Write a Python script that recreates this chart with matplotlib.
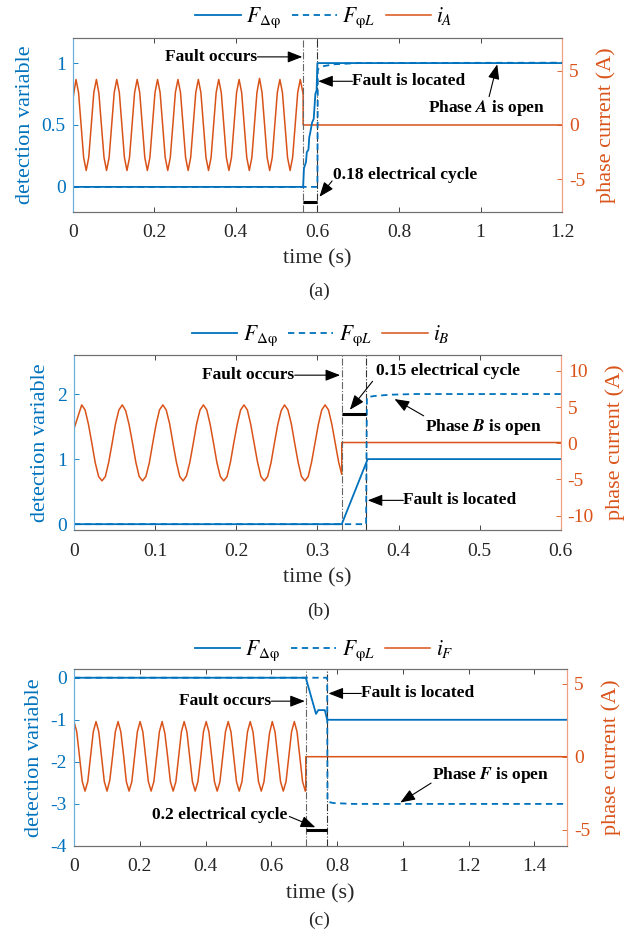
import numpy as np
import matplotlib.pyplot as plt

plt.rcParams['font.family'] = ['Liberation Serif', 'DejaVu Serif']
plt.rcParams['mathtext.fontset'] = 'stix'

blue = '#0072BD'
orange = '#D95319'
gray = '#262626'

# ---------------- (a) ----------------
fa_t = [0, 0.565, 0.567, 0.572, 0.574, 0.578, 0.580, 0.582, 0.587, 0.591, 0.595, 0.598, 0.600, 1.2]
fa_v = [0, 0, 0.15, 0.20, 0.28, 0.30, 0.40, 0.43, 0.52, 0.55, 0.75, 0.78, 1.0, 1.0]
la_t = [0, 0.600, 0.601, 0.615, 0.640, 0.700, 1.2]
la_v = [0, 0, 0.95, 0.975, 0.99, 1.0, 1.003]
# phase current i_A, sampled 8 points per cycle starting at the first peak
ia_t0, ia_dt = 0.008, 0.00625
ia_first = 2.3
ia_vals = [
    4.2, 3.0, 0.0, -3.0, -4.2, -3.0, 0.0, 3.0,
    4.2, 2.9, -0.1, -3.0, -4.2, -3.0, 0.0, 3.0,
    4.2, 3.0, 0.0, -3.0, -4.2, -3.0, 0.0, 3.0,
    4.2, 3.0, 0.0, -3.0, -4.2, -3.0, 0.0, 3.0,
    4.2, 3.0, 0.0, -3.0, -4.2, -3.0, 0.0, 3.0,
    4.2, 3.0, 0.0, -3.0, -4.2, -3.0, 0.0, 3.0,
    4.2, 3.0, 0.0, -3.0, -4.2, -3.0, 0.0, 3.0,
    4.2, 3.0, 0.0, -3.0, -4.2, -3.0, 0.0, 3.0,
    4.2, 3.0, 0.0, -3.0, -4.2, -3.0, 0.0, 3.0,
    4.3, 3.0, 0.0, -3.0, -4.2, -3.0, 0.0, 3.0,
    4.2, 3.0, 0.0, -3.0, -4.2, -3.0, 0.0, 3.0,
    4.2, 3.0,
]
ia_fault = (0.565, 2.8)
ia_after = 0.0

# ---------------- (b) ----------------
fb_t = [0, 0.330, 0.362, 0.6]
fb_v = [0, 0, 1.0, 1.0]
lb_t = [0, 0.360, 0.361, 0.370, 0.390, 0.420, 0.6]
lb_v = [0, 0, 1.95, 1.97, 1.99, 2.0, 2.0]
# phase current i_B, 12 points per cycle starting at the first peak
ib_t0, ib_dt = 0.0095, 0.05 / 12
ib_first = 2.0
ib_vals = [
    5.3, 4.6, 2.6, 0.0, -2.7, -4.6, -5.2, -4.6, -2.6, 0.0, 2.7, 4.6,
    5.3, 4.5, 2.6, 0.1, -2.6, -4.6, -5.2, -4.6, -2.7, 0.0, 2.6, 4.6,
    5.3, 4.6, 2.7, 0.0, -2.6, -4.6, -5.2, -4.5, -2.6, 0.0, 2.7, 4.6,
    5.3, 4.6, 2.6, 0.0, -2.7, -4.6, -5.2, -4.6, -2.6, 0.1, 2.6, 4.6,
    5.3, 4.6, 2.6, 0.0, -2.6, -4.6, -5.2, -4.6, -2.7, 0.0, 2.6, 4.5,
    5.3, 4.6, 2.7, 0.0, -2.6, -4.6, -5.2, -4.6, -2.6, 0.0, 2.6, 4.6,
    5.3, 4.6, 2.6, 0.0, -2.6,
]
ib_fault = (0.330, -4.3)
ib_after = 0.1

# ---------------- (c) ----------------
fc_t = [0, 0.705, 0.736, 0.743, 0.763, 0.770, 1.5]
fc_v = [0, 0, -0.86, -0.77, -0.77, -1.0, -1.0]
lc_t = [0, 0.770, 0.771, 0.790, 0.850, 1.5]
lc_v = [0, 0, -2.95, -2.98, -3.0, -3.0]
# phase current i_F, 8 points per cycle starting at t = 0 (a peak)
ic_t0, ic_dt = 0.0, 0.067 / 8
ic_vals = [
    2.4, 1.7, 0.0, -1.7, -2.35, -1.7, 0.0, 1.7,
    2.4, 1.7, 0.0, -1.7, -2.35, -1.6, 0.0, 1.7,
    2.4, 1.7, 0.1, -1.7, -2.35, -1.7, 0.0, 1.7,
    2.4, 1.7, 0.0, -1.7, -2.35, -1.7, 0.0, 1.7,
    2.4, 1.6, 0.0, -1.7, -2.35, -1.7, 0.0, 1.7,
    2.4, 1.7, 0.0, -1.7, -2.35, -1.7, -0.1, 1.7,
    2.4, 1.7, 0.0, -1.7, -2.35, -1.7, 0.0, 1.7,
    2.4, 1.7, 0.0, -1.7, -2.35, -1.7, 0.0, 1.7,
    2.4, 1.7, 0.0, -1.7, -2.35, -1.7, 0.0, 1.6,
    2.4, 1.7, 0.0, -1.7, -2.35, -1.7, 0.0, 1.7,
    2.4, 1.7, 0.0, -1.7, -2.35,
]
ic_fault = (0.705, -2.3)
ic_after = 0.0


def current_series(t0, dt, vals, fault, after, t_end, first=None):
    t = list(t0 + dt * np.arange(len(vals)))
    v = list(vals)
    if first is not None:
        t = [0.0] + t
        v = [first] + v
    t += [fault[0], fault[0], t_end]
    v += [fault[1], after, after]
    return t, v


def styled(rect, xlim, xticks, ylim, yticks, ylim2, yticks2):
    ax = fig.add_axes(rect)
    ax2 = ax.twinx()
    ax.set_zorder(ax2.get_zorder() + 1)
    ax.patch.set_visible(False)
    ax.set_xlim(xlim)
    ax.set_xticks(xticks)
    ax.set_xticklabels([f'{x:g}' for x in xticks])
    ax.set_ylim(ylim)
    ax.set_yticks(yticks)
    ax.set_yticklabels([f'{y:g}' for y in yticks])
    ax2.set_ylim(ylim2)
    ax2.set_yticks(yticks2)
    ax2.set_yticklabels([f'{y:g}' for y in yticks2])
    ax.tick_params(axis='x', direction='in', top=True, length=3.5, width=0.6,
                   labelsize=14, colors=gray, pad=9)
    ax.tick_params(axis='y', direction='in', length=3.5, width=0.6, labelsize=14,
                   colors=blue, pad=5)
    ax2.tick_params(axis='y', direction='in', length=3.5, width=0.6, labelsize=14,
                    colors=orange, pad=5)
    for a in (ax, ax2):
        a.spines['top'].set_color('#707070')
        a.spines['bottom'].set_color('#707070')
        a.spines['left'].set_color('#6aaedc')
        a.spines['right'].set_color('#f0a080')
        for s in a.spines.values():
            s.set_linewidth(0.8)
    ax.set_ylabel('detection variable', color=blue, fontsize=16, labelpad=5)
    ax2.set_ylabel('phase current (A)', color=orange, fontsize=16, labelpad=8)
    ax.set_xlabel('time (s)', color=gray, fontsize=16, labelpad=6)
    return ax, ax2


def note(ax, x, y, s, ha='center'):
    ax.text(x, y, s, ha=ha, va='center', fontsize=12.5, fontweight='bold', color='k')


def arrow(ax, tail, head):
    ax.annotate('', xy=head, xytext=tail,
                arrowprops=dict(arrowstyle='-|>,head_length=0.9,head_width=0.35',
                                color='k', lw=0.8, shrinkA=0, shrinkB=0,
                                mutation_scale=10))


def draw(ax, ax2, f_t, f_v, l_t, l_v, i_t, i_v, t_fault, t_loc, bar_y, cur_name, leg_xy):
    ax.axvline(t_fault, color='#666666', lw=0.8, ls='-.')
    ax.axvline(t_loc, color='#333333', lw=0.8, ls='-.')
    h1, = ax.plot(f_t, f_v, color=blue, lw=1.3)
    h2, = ax.plot(l_t, l_v, color=blue, lw=1.3, ls=(0, (3.5, 2.5)))
    h3, = ax2.plot(i_t, i_v, color=orange, lw=1.1)
    ax.plot([t_fault, t_loc], [bar_y, bar_y], color='k', lw=2.2, solid_capstyle='butt')
    ax.legend([h1, h2, h3],
              [r'$F_{\mathrm{\Delta\varphi}}$', r'$F_{\mathrm{\varphi}L}$', cur_name],
              loc='center', bbox_to_anchor=leg_xy, bbox_transform=fig.transFigure,
              ncol=3, frameon=False, fontsize=15.5, handlelength=2.1,
              handletextpad=0.25, columnspacing=0.5)


fig = plt.figure(figsize=(6.38, 9.32), dpi=100)

# (a)
ax, ax2 = styled([0.114, 0.7729, 0.767, 0.186], (0, 1.2), [0, 0.2, 0.4, 0.6, 0.8, 1.0, 1.2],
                 (-0.2, 1.2), [0, 0.5, 1], (-8, 8), [-5, 0, 5])
ia_t, ia_v = current_series(ia_t0, ia_dt, ia_vals, ia_fault, ia_after, 1.2, ia_first)
draw(ax, ax2, fa_t, fa_v, la_t, la_v, ia_t, ia_v, 0.565, 0.600, -0.12, r'$i_A$', (0.508, 0.981))
note(ax, 0.451, 1.05, 'Fault occurs', ha='right')
arrow(ax, (0.453, 1.05), (0.563, 1.05))
note(ax, 0.686, 0.853, 'Fault is located', ha='left')
arrow(ax, (0.686, 0.853), (0.602, 0.853))
note(ax, 1.016, 0.638, r'Phase $\mathbfit{A}$ is open')
arrow(ax, (1.021, 0.729), (1.041, 0.99))
note(ax, 0.816, 0.097, '0.18 electrical cycle')
arrow(ax, (0.636, 0.048), (0.605, -0.08))
fig.text(0.5, 1 - 291 / 932, '(a)', ha='center', va='center', fontsize=14, color=gray)

# (b)
ax, ax2 = styled([0.116, 0.4313, 0.763, 0.1878], (0, 0.6), [0, 0.1, 0.2, 0.3, 0.4, 0.5, 0.6],
                 (-0.09, 2.6), [0, 1, 2], (-12, 12.2), [-10, -5, 0, 5, 10])
ib_t, ib_v = current_series(ib_t0, ib_dt, ib_vals, ib_fault, ib_after, 0.6, ib_first)
draw(ax, ax2, fb_t, fb_v, lb_t, lb_v, ib_t, ib_v, 0.330, 0.360, 1.69, r'$i_B$', (0.503, 0.6396))
note(ax, 0.271, 2.29, 'Fault occurs', ha='right')
arrow(ax, (0.272, 2.29), (0.328, 2.29))
note(ax, 0.461, 2.35, '0.15 electrical cycle')
arrow(ax, (0.368, 2.196), (0.340, 1.758))
note(ax, 0.505, 1.49, r'Phase $\mathbfit{B}$ is open')
arrow(ax, (0.431, 1.665), (0.395, 1.923))
note(ax, 0.406, 0.366, 'Fault is located', ha='left')
arrow(ax, (0.406, 0.366), (0.362, 0.366))
fig.text(0.5, 1 - 611 / 932, '(b)', ha='center', va='center', fontsize=14, color=gray)

# (c)
ax, ax2 = styled([0.116, 0.0923, 0.773, 0.190], (0, 1.5), [0, 0.2, 0.4, 0.6, 0.8, 1.0, 1.2, 1.4],
                 (-4, 0.21), [-4, -3, -2, -1, 0], (-6.1, 6.0), [-5, 0, 5])
ic_t, ic_v = current_series(ic_t0, ic_dt, ic_vals, ic_fault, ic_after, 1.5)
draw(ax, ax2, fc_t, fc_v, lc_t, lc_v, ic_t, ic_v, 0.705, 0.770, -3.62, r'$i_F$', (0.508, 0.3016))
note(ax, 0.599, -0.557, 'Fault occurs', ha='right')
arrow(ax, (0.600, -0.557), (0.702, -0.557))
note(ax, 0.874, -0.374, 'Fault is located', ha='left')
arrow(ax, (0.874, -0.374), (0.774, -0.374))
note(ax, 1.266, -2.32, r'Phase $\mathbfit{F}$ is open')
arrow(ax, (1.086, -2.505), (0.9925, -2.966))
note(ax, 0.444, -3.26, '0.2 electrical cycle')
arrow(ax, (0.655, -3.30), (0.734, -3.555))
fig.text(0.5, 1 - 920 / 932, '(c)', ha='center', va='center', fontsize=14, color=gray)

fig.savefig('out.png', dpi=100)
